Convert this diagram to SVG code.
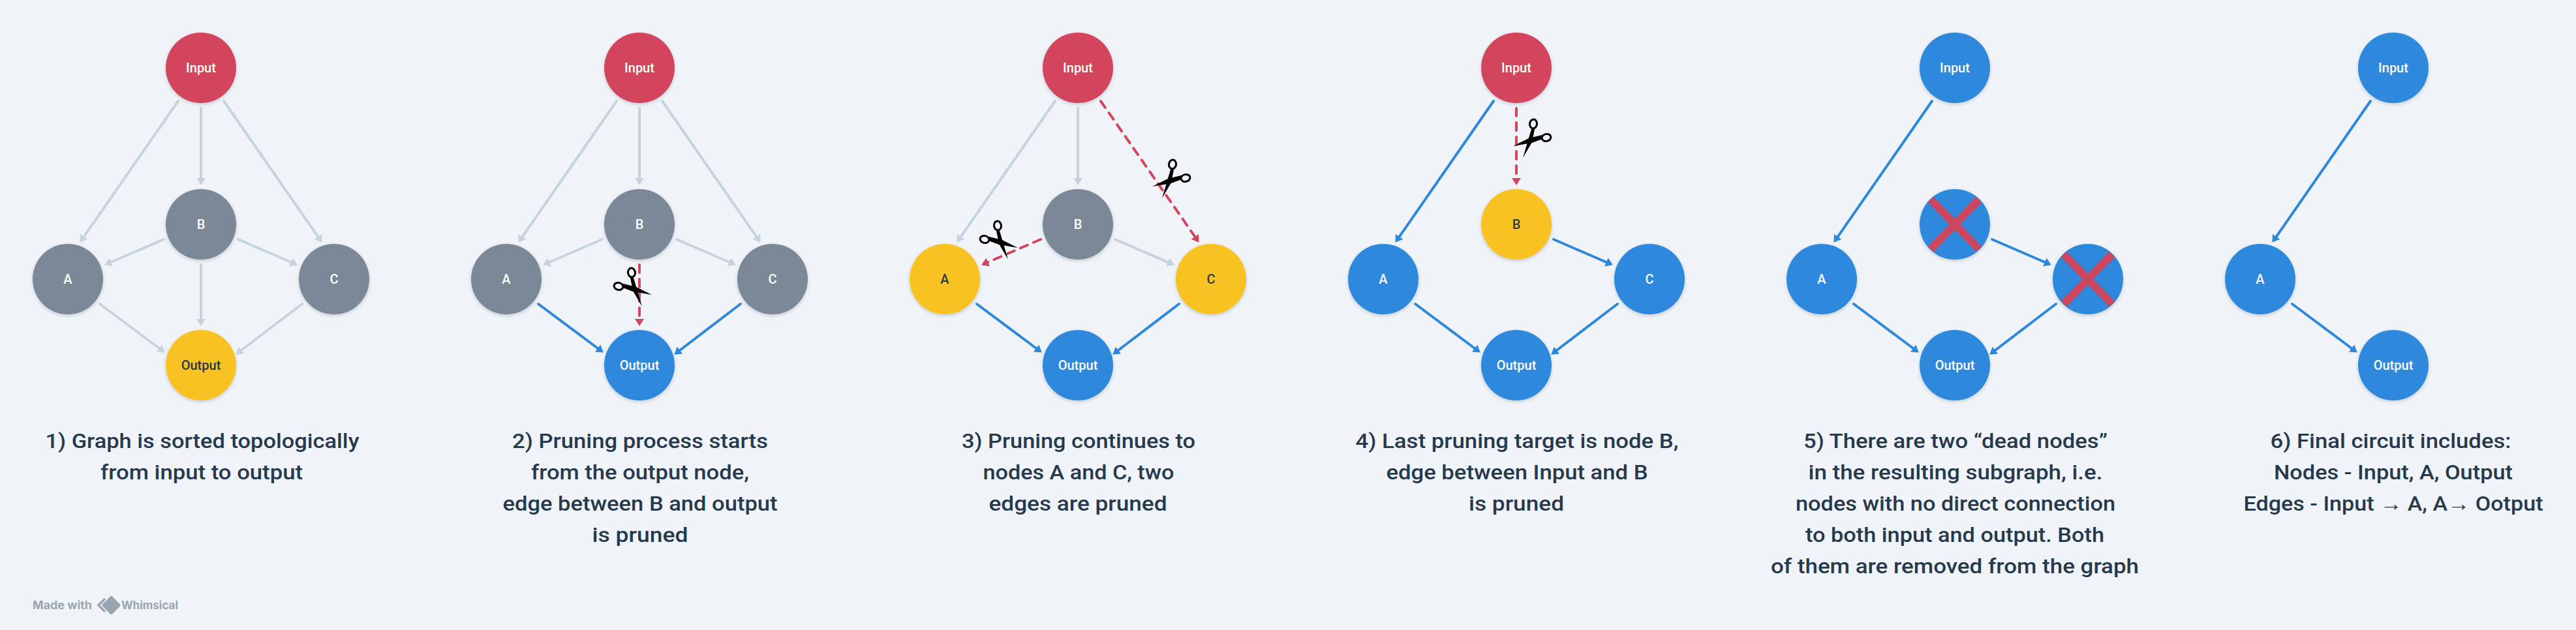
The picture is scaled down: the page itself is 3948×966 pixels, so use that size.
<svg xmlns="http://www.w3.org/2000/svg" width="3948" height="966" viewBox="0 0 3948 966">
<style>
text{font-family:Roboto,"Noto Sans",sans-serif}
.n{stroke:none;filter:url(#sh)}
.red{fill:#D2455C}.gray{fill:#7A8897}.yel{fill:#F8C324}.blue{fill:#2D88DB}
.l{font-size:20px;font-weight:500;text-anchor:middle;fill:#fff}
.d{fill:#27394C}
.cap{font-size:32px;font-weight:500;text-anchor:middle;fill:#27394C}
.e{fill:none;stroke-width:4;stroke-linecap:round}
.eg{stroke:#C5D3DE;marker-end:url(#mg)}
.eb{stroke:#2D88DB;marker-end:url(#mb)}
.er{stroke:#D2455C;marker-end:url(#mr);stroke-dasharray:12 10}
.x{stroke:#CC4860;stroke-width:12;fill:none}
.ring{fill:#F0F4F8;stroke:#000;stroke-width:3}
</style>
<defs>
<filter id="sh" x="-20%" y="-20%" width="140%" height="140%"><feDropShadow dx="0" dy="2" stdDeviation="2.5" flood-color="#27394C" flood-opacity=".22"/></filter>
<marker id="mg" markerUnits="userSpaceOnUse" markerWidth="11" markerHeight="14" refX="0" refY="7" orient="auto"><path d="M0 0L11 7L0 14z" fill="#C5D3DE"/></marker>
<marker id="mb" markerUnits="userSpaceOnUse" markerWidth="11" markerHeight="14" refX="0" refY="7" orient="auto"><path d="M0 0L11 7L0 14z" fill="#2D88DB"/></marker>
<marker id="mr" markerUnits="userSpaceOnUse" markerWidth="11" markerHeight="14" refX="0" refY="7" orient="auto"><path d="M0 0L11 7L0 14z" fill="#D2455C"/></marker>
<g id="sc">
<polygon points="2,-17 7,-17 3,3 -11,27 -3,0" fill="#000"/>
<polygon points="18,-8 19,-2 3,4 -26,9 -2,-3" fill="#000"/>
<ellipse class="ring" cx="5" cy="-25" rx="5.5" ry="7" transform="rotate(8 5 -25)"/>
<ellipse class="ring" cx="25" cy="-4" rx="7" ry="5.5" transform="rotate(-12 25 -4)"/>
</g>
</defs>
<rect width="3948" height="966" fill="#F0F4F8"/>

<g id="connectors">
<g transform="translate(308 0)">
<path class="e eg" d="M-35 155L-179.3 362.8"/><path class="e eg" d="M0 166V273"/><path class="e eg" d="M35 155L179.3 362.8"/>
<path class="e eg" d="M-57 367L-137.8 402"/><path class="e eg" d="M57 367L137.8 402"/><path class="e eg" d="M0 406V489"/>
<path class="e eg" d="M-155 466L-64 534"/><path class="e eg" d="M155 466L62 537"/>
</g>
<g transform="translate(980 0)">
<path class="e eg" d="M-35 155L-179.3 362.8"/><path class="e eg" d="M0 166V273"/><path class="e eg" d="M35 155L179.3 362.8"/>
<path class="e eg" d="M-57 367L-137.8 402"/><path class="e eg" d="M57 367L137.8 402"/><path class="e er" d="M0 406V489"/>
<path class="e eb" d="M-155 466L-64 534"/><path class="e eb" d="M155 466L62 537"/>
</g>
<g transform="translate(1652 0)">
<path class="e eg" d="M-35 155L-179.3 362.8"/><path class="e eg" d="M0 166V273"/><path class="e er" d="M35 155L179.3 362.8"/>
<path class="e er" d="M-57 367L-137.8 402"/><path class="e eg" d="M57 367L137.8 402"/>
<path class="e eb" d="M-155 466L-64 534"/><path class="e eb" d="M155 466L62 537"/>
</g>
<g transform="translate(2324 0)">
<path class="e eb" d="M-35 155L-179.3 362.8"/><path class="e er" d="M0 166V273"/>
<path class="e eb" d="M57 367L137.8 402"/>
<path class="e eb" d="M-155 466L-64 534"/><path class="e eb" d="M155 466L62 537"/>
</g>
<g transform="translate(2996 0)">
<path class="e eb" d="M-35 155L-179.3 362.8"/>
<path class="e eb" d="M57 367L137.8 402"/>
<path class="e eb" d="M-155 466L-64 534"/><path class="e eb" d="M155 466L62 537"/>
</g>
<g transform="translate(3668 0)">
<path class="e eb" d="M-35 155L-179.3 362.8"/>
<path class="e eb" d="M-155 466L-64 534"/>
</g>
</g>

<g id="p1-input"><circle class="n red" cx="308" cy="104" r="54"/><text class="l" x="308" y="111">Input</text></g>
<g id="p1-a"><circle class="n gray" cx="104" cy="428" r="54"/><text class="l" x="104" y="435">A</text></g>
<g id="p1-b"><circle class="n gray" cx="308" cy="344" r="54"/><text class="l" x="308" y="351">B</text></g>
<g id="p1-c"><circle class="n gray" cx="512" cy="428" r="54"/><text class="l" x="512" y="435">C</text></g>
<g id="p1-output"><circle class="n yel" cx="308" cy="560" r="54"/><text class="l d" x="308" y="567">Output</text></g>

<g id="p2-input"><circle class="n red" cx="980" cy="104" r="54"/><text class="l" x="980" y="111">Input</text></g>
<g id="p2-a"><circle class="n gray" cx="776" cy="428" r="54"/><text class="l" x="776" y="435">A</text></g>
<g id="p2-b"><circle class="n gray" cx="980" cy="344" r="54"/><text class="l" x="980" y="351">B</text></g>
<g id="p2-c"><circle class="n gray" cx="1184" cy="428" r="54"/><text class="l" x="1184" y="435">C</text></g>
<g id="p2-output"><circle class="n blue" cx="980" cy="560" r="54"/><text class="l" x="980" y="567">Output</text></g>

<g id="p3-input"><circle class="n red" cx="1652" cy="104" r="54"/><text class="l" x="1652" y="111">Input</text></g>
<g id="p3-a"><circle class="n yel" cx="1448" cy="428" r="54"/><text class="l d" x="1448" y="435">A</text></g>
<g id="p3-b"><circle class="n gray" cx="1652" cy="344" r="54"/><text class="l" x="1652" y="351">B</text></g>
<g id="p3-c"><circle class="n yel" cx="1856" cy="428" r="54"/><text class="l d" x="1856" y="435">C</text></g>
<g id="p3-output"><circle class="n blue" cx="1652" cy="560" r="54"/><text class="l" x="1652" y="567">Output</text></g>

<g id="p4-input"><circle class="n red" cx="2324" cy="104" r="54"/><text class="l" x="2324" y="111">Input</text></g>
<g id="p4-a"><circle class="n blue" cx="2120" cy="428" r="54"/><text class="l" x="2120" y="435">A</text></g>
<g id="p4-b"><circle class="n yel" cx="2324" cy="344" r="54"/><text class="l d" x="2324" y="351">B</text></g>
<g id="p4-c"><circle class="n blue" cx="2528" cy="428" r="54"/><text class="l" x="2528" y="435">C</text></g>
<g id="p4-output"><circle class="n blue" cx="2324" cy="560" r="54"/><text class="l" x="2324" y="567">Output</text></g>

<g id="p5-input"><circle class="n blue" cx="2996" cy="104" r="54"/><text class="l" x="2996" y="111">Input</text></g>
<g id="p5-a"><circle class="n blue" cx="2792" cy="428" r="54"/><text class="l" x="2792" y="435">A</text></g>
<g id="p5-b"><circle class="n blue" cx="2996" cy="344" r="54"/><path class="x" d="M2959 306L3033 382M3033 306L2959 382"/></g>
<g id="p5-c"><circle class="n blue" cx="3200" cy="428" r="54"/><path class="x" d="M3163 390L3237 466M3237 390L3163 466"/></g>
<g id="p5-output"><circle class="n blue" cx="2996" cy="560" r="54"/><text class="l" x="2996" y="567">Output</text></g>

<g id="p6-input"><circle class="n blue" cx="3668" cy="104" r="54"/><text class="l" x="3668" y="111">Input</text></g>
<g id="p6-a"><circle class="n blue" cx="3464" cy="428" r="54"/><text class="l" x="3464" y="435">A</text></g>
<g id="p6-output"><circle class="n blue" cx="3668" cy="560" r="54"/><text class="l" x="3668" y="567">Output</text></g>

<g id="scissors">
<use href="#sc" transform="translate(973 443) scale(-1 1)"/>
<use href="#sc" transform="translate(1534 371) scale(-1 1)"/>
<use href="#sc" transform="translate(1792 277)"/>
<use href="#sc" transform="translate(2345 215)"/>
</g>

<g id="captions">
<text class="cap" x="310" y="687" textLength="481" lengthAdjust="spacingAndGlyphs">1) Graph is sorted topologically</text>
<text class="cap" x="309" y="735" textLength="310" lengthAdjust="spacingAndGlyphs">from input to output</text>
<text class="cap" x="981" y="687" textLength="392" lengthAdjust="spacingAndGlyphs">2) Pruning process starts</text>
<text class="cap" x="981" y="735" textLength="334" lengthAdjust="spacingAndGlyphs">from the output node,</text>
<text class="cap" x="981" y="783" textLength="421" lengthAdjust="spacingAndGlyphs">edge between B and output</text>
<text class="cap" x="981" y="831" textLength="147" lengthAdjust="spacingAndGlyphs">is pruned</text>
<text class="cap" x="1653" y="687" textLength="358" lengthAdjust="spacingAndGlyphs">3) Pruning continues to</text>
<text class="cap" x="1653" y="735" textLength="293" lengthAdjust="spacingAndGlyphs">nodes A and C, two</text>
<text class="cap" x="1652" y="783" textLength="273" lengthAdjust="spacingAndGlyphs">edges are pruned</text>
<text class="cap" x="2325" y="687" textLength="495" lengthAdjust="spacingAndGlyphs">4) Last pruning target is node B,</text>
<text class="cap" x="2325" y="735" textLength="401" lengthAdjust="spacingAndGlyphs">edge between Input and B</text>
<text class="cap" x="2324" y="783" textLength="146" lengthAdjust="spacingAndGlyphs">is pruned</text>
<text class="cap" x="2997" y="687" textLength="466" lengthAdjust="spacingAndGlyphs">5) There are two “dead nodes”</text>
<text class="cap" x="2997" y="735" textLength="451" lengthAdjust="spacingAndGlyphs">in the resulting subgraph, i.e.</text>
<text class="cap" x="2997" y="783" textLength="490" lengthAdjust="spacingAndGlyphs">nodes with no direct connection</text>
<text class="cap" x="2996" y="831" textLength="458" lengthAdjust="spacingAndGlyphs">to both input and output. Both</text>
<text class="cap" x="2996" y="879" textLength="564" lengthAdjust="spacingAndGlyphs">of them are removed from the graph</text>
<text class="cap" x="3664" y="687" textLength="369" lengthAdjust="spacingAndGlyphs">6) Final circuit includes:</text>
<text class="cap" x="3668" y="735" textLength="366" lengthAdjust="spacingAndGlyphs">Nodes - Input, A, Output</text>
<text class="cap" x="3668" y="783" textLength="459" lengthAdjust="spacingAndGlyphs">Edges - Input → A, A→ Ootput</text>
</g>

<g id="footer">
<text x="50" y="934" font-size="17" font-weight="700" fill="#98A5B1" style="font-family:Inter,sans-serif" textLength="91" lengthAdjust="spacingAndGlyphs">Made with</text>
<path d="M161 918L151 928L161 938" fill="none" stroke="#98A5B1" stroke-width="3.5"/>
<rect x="160" y="917.500" width="21" height="21" rx="2" fill="#98A5B1" transform="rotate(45 170.500 928)"/>
<text x="186" y="934" font-size="17" font-weight="700" fill="#98A5B1" style="font-family:Inter,sans-serif" textLength="87" lengthAdjust="spacingAndGlyphs">Whimsical</text>
</g>
</svg>
